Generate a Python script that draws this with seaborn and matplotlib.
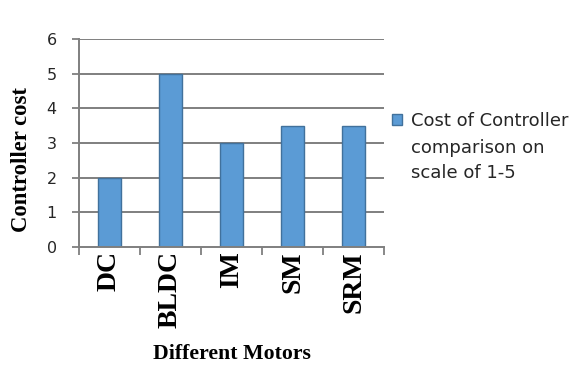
import matplotlib
matplotlib.use("Agg")
import matplotlib.pyplot as plt
import seaborn as sns
import pandas as pd
import numpy as np

# Controller cost for each motor type (scale of 1-5)
motors = ["DC", "BLDC", "IM", "SM", "SRM"]
costs = [2, 5, 3, 3.5, 3.5]
series_lines = ["Cost of Controller", "comparison on", "scale of 1-5"]
y_ticks = [0, 1, 2, 3, 4, 5, 6]

sns.set_theme(style="white")
plt.rcParams["font.family"] = ["DejaVu Sans"]

df = pd.DataFrame({"Motor": motors, "Cost": costs, "Series": series_lines[0]})

fig = plt.figure(figsize=(5.76, 3.67), dpi=100)
ax = fig.add_axes([0.137, 0.327, 0.530, 0.567])

grid_color = "#7f7f7f"
text_color = "#262626"
ax.set_axisbelow(True)
for y in y_ticks[1:]:
    ax.axhline(y, color=grid_color, lw=1.4, zorder=0)

sns.barplot(data=df, x="Motor", y="Cost", hue="Series", ax=ax,
            palette=["#5b9bd5"], width=0.38, edgecolor="#41719c",
            linewidth=1.0, saturation=1, legend=True)

ax.set_ylim(0, 6)
ax.set_xlim(-0.5, len(motors) - 0.5)
ax.set_yticks(y_ticks)
ax.set_yticklabels([str(v) for v in y_ticks], fontsize=11.5, color=text_color)

# Category labels, rotated, with ticks on the category boundaries
ax.set_xticks(range(len(motors)))
ax.set_xticklabels(motors, rotation=90, fontsize=20, fontweight="bold",
                   family=["Liberation Serif"], va="top", color="black")
ax.tick_params(axis="x", length=0, pad=3)
ax.set_xticks(np.arange(-0.5, len(motors), 1.0), minor=True)
ax.tick_params(axis="x", which="minor", length=6, width=1.3, color=grid_color,
               direction="out", bottom=True)
ax.tick_params(axis="y", length=5, width=1.3, color=grid_color,
               direction="out", left=True, pad=11)

for side in ["top", "right"]:
    ax.spines[side].set_visible(False)
for side in ["left", "bottom"]:
    ax.spines[side].set_color(grid_color)
    ax.spines[side].set_linewidth(1.4)

ax.set_xlabel("Different Motors", fontsize=15.7, fontweight="bold",
              family=["Liberation Serif"], color="black")
ax.xaxis.set_label_coords(0.5, -0.465)
ax.set_ylabel("Controller cost", fontsize=16.3, fontweight="bold",
              family=["Liberation Serif"], color="black")
ax.yaxis.set_label_coords(-0.155, 0.418)

leg = ax.legend(loc="upper left", bbox_to_anchor=(1.025, 0.648), frameon=False,
                handlelength=0.55, handleheight=0.55, handletextpad=0.5,
                borderaxespad=0, borderpad=0,
                prop={"family": ["DejaVu Sans"], "size": 13})
first = leg.get_texts()[0]
first.set_color(text_color)
# Continuation lines of the series name, set under the first legend line
ax.annotate("\n".join(series_lines[1:]), xy=(0, 0), xycoords=first,
            xytext=(0, -6.5), textcoords="offset points", va="top", ha="left",
            fontsize=13, color=text_color, linespacing=1.48,
            annotation_clip=False, zorder=10)

fig.savefig("out.png", dpi=100)
